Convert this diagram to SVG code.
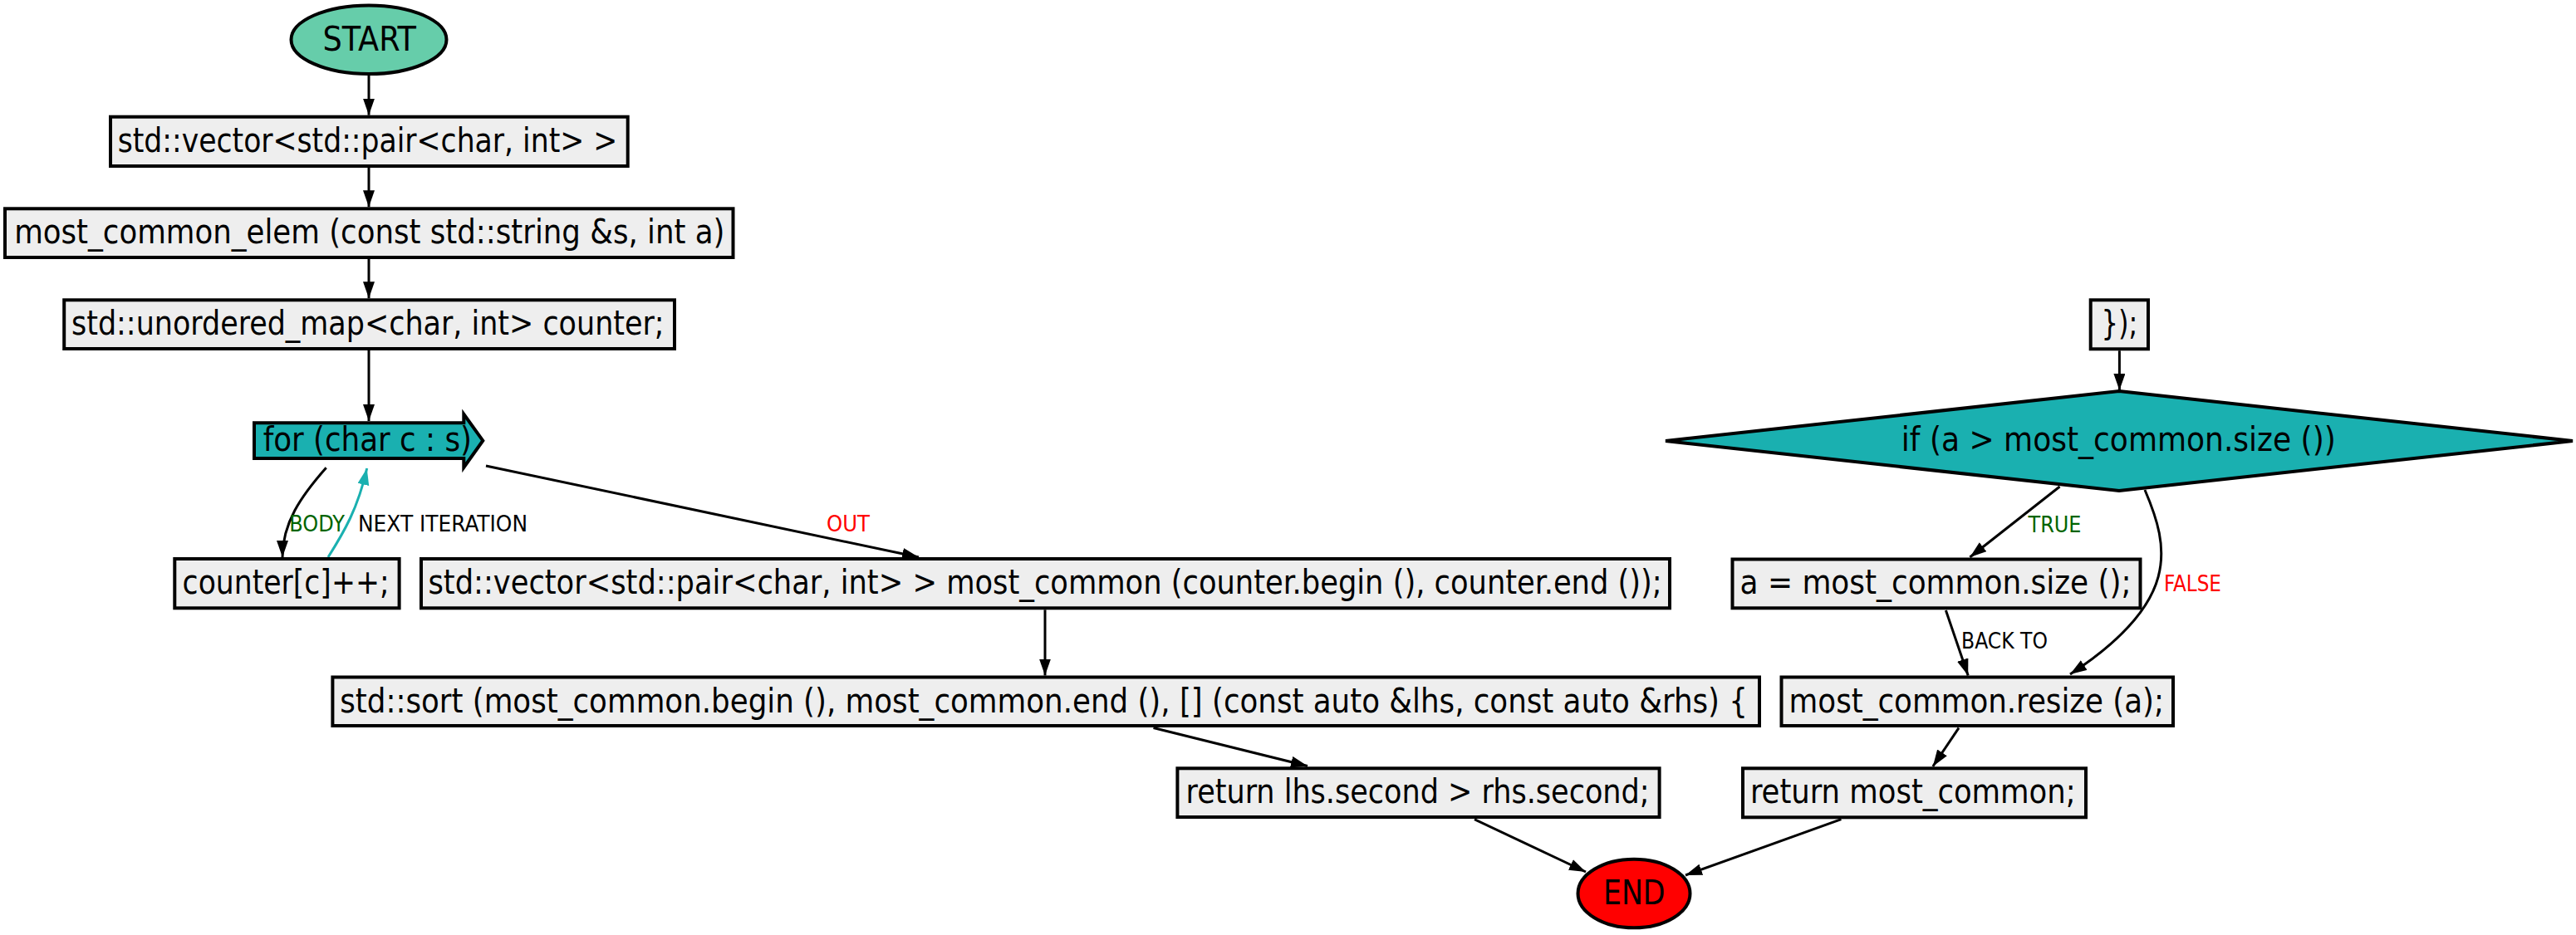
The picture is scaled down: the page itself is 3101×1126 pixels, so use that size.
<svg xmlns="http://www.w3.org/2000/svg" width="3101" height="1126" viewBox="0 0 3101 1126">
<style>
.box{fill:#eeeeee;stroke:#000;stroke-width:4}
.t{font-family:"DejaVu Sans Condensed","DejaVu Sans",sans-serif;font-size:40px;fill:#000;text-anchor:middle}
.l{font-family:"DejaVu Sans Condensed","DejaVu Sans",sans-serif;font-size:26px}
.e{fill:none;stroke:#000;stroke-width:3;marker-end:url(#ah)}
.et{fill:none;stroke:#1ab0b0;stroke-width:3;marker-end:url(#aht)}
</style>
<defs>
<marker id="ah" markerUnits="userSpaceOnUse" markerWidth="22" markerHeight="16" refX="20" refY="7" orient="auto"><path d="M0,0 L20,7 L0,14 z" fill="#000"/></marker>
<marker id="aht" markerUnits="userSpaceOnUse" markerWidth="22" markerHeight="16" refX="20" refY="7" orient="auto"><path d="M0,0 L20,7 L0,14 z" fill="#1ab0b0"/></marker>
</defs>
<rect width="3101" height="1126" fill="#fff"/>
<g id="edges">
<path class="e" d="M444,91 L444,138.7"/>
<path class="e" d="M444,202 L444,249.3"/>
<path class="e" d="M444,312 L444,359.3"/>
<path class="e" d="M444,422 L444,507"/>
<path class="e" d="M392.7,563.3 C362,598 340,630 340,671"/>
<path class="et" d="M395,671 C414,641 431,612 441.7,564"/>
<path class="e" d="M585,561 L1106,671"/>
<path class="e" d="M1258,734.3 L1258,813.5"/>
<path class="e" d="M1388.5,876.5 L1574,922.5"/>
<path class="e" d="M1775,986.7 L1909,1050"/>
<path class="e" d="M2216.4,986.7 L2029,1054"/>
<path class="e" d="M2551.4,422.3 L2551.4,470"/>
<path class="e" d="M2479.5,586 L2371.4,671"/>
<path class="e" d="M2582,590 C2612,660 2625,725 2492,812"/>
<path class="e" d="M2342.4,735 L2369.2,813.5"/>
<path class="e" d="M2358,876.7 L2326.8,923"/>
<text class="l" x="348.3" y="640" textLength="66.7" lengthAdjust="spacingAndGlyphs" fill="#006400">BODY</text>
<text class="l" x="431" y="640" textLength="204" lengthAdjust="spacingAndGlyphs" fill="#000">NEXT ITERATION</text>
<text class="l" x="995" y="640" textLength="52" lengthAdjust="spacingAndGlyphs" fill="#ff0000">OUT</text>
<text class="l" x="2441.5" y="640.7" textLength="64" lengthAdjust="spacingAndGlyphs" fill="#006400">TRUE</text>
<text class="l" x="2605" y="711.7" textLength="69" lengthAdjust="spacingAndGlyphs" fill="#ff0000">FALSE</text>
<text class="l" x="2361" y="781" textLength="104" lengthAdjust="spacingAndGlyphs" fill="#000">BACK TO</text>
</g>
<g id="start">
<ellipse cx="444" cy="47.7" rx="93.5" ry="41.3" fill="#66cdaa" stroke="#000" stroke-width="4"/>
<text class="t" x="444.8" y="61" textLength="112.4" lengthAdjust="spacingAndGlyphs">START</text>
</g>
<g id="n1">
<rect class="box" x="133" y="140.7" width="622.7" height="59.3"/>
<text class="t" x="442.5" y="182.7" textLength="601.5" lengthAdjust="spacingAndGlyphs">std::vector&lt;std::pair&lt;char, int&gt; &gt;</text>
</g>
<g id="n2">
<rect class="box" x="6" y="251.3" width="876.5" height="58.7"/>
<text class="t" x="444.8" y="293.3" textLength="855.3" lengthAdjust="spacingAndGlyphs">most_common_elem (const std::string &amp;s, int a)</text>
</g>
<g id="n3">
<rect class="box" x="77.2" y="361.3" width="734.8" height="58.7"/>
<text class="t" x="442.8" y="403.3" textLength="713.6" lengthAdjust="spacingAndGlyphs">std::unordered_map&lt;char, int&gt; counter;</text>
</g>
<g id="n4">
<polygon points="306,509.3 558.3,509.3 558.3,498.7 581.3,530.7 558.3,563 558.3,552 306,552" fill="#1ab0b0" stroke="#000" stroke-width="4"/>
<text class="t" x="442.3" y="543.3" textLength="251.3" lengthAdjust="spacingAndGlyphs">for (char c : s)</text>
</g>
<g id="n5">
<rect class="box" x="210.3" y="673" width="270.3" height="59.3"/>
<text class="t" x="344.1" y="715" textLength="249" lengthAdjust="spacingAndGlyphs">counter[c]++;</text>
</g>
<g id="n6">
<rect class="box" x="507" y="673" width="1503" height="59.3"/>
<text class="t" x="1258.1" y="715" textLength="1485.3" lengthAdjust="spacingAndGlyphs">std::vector&lt;std::pair&lt;char, int&gt; &gt; most_common (counter.begin (), counter.end ());</text>
</g>
<g id="n7">
<rect class="box" x="400.4" y="815.5" width="1717.6" height="58.5"/>
<text class="t" x="1256.6" y="857.5" textLength="1694.7" lengthAdjust="spacingAndGlyphs">std::sort (most_common.begin (), most_common.end (), [] (const auto &amp;lhs, const auto &amp;rhs) {</text>
</g>
<g id="n8">
<rect class="box" x="1417.4" y="925.3" width="580.2" height="58.7"/>
<text class="t" x="1706.6" y="967" textLength="558" lengthAdjust="spacingAndGlyphs">return lhs.second &gt; rhs.second;</text>
</g>
<g id="end">
<ellipse cx="1967" cy="1076" rx="67.5" ry="41.3" fill="#ff0000" stroke="#000" stroke-width="4"/>
<text class="t" x="1967.3" y="1089.3" textLength="74.7" lengthAdjust="spacingAndGlyphs">END</text>
</g>
<g id="n9">
<rect class="box" x="2516.7" y="361.3" width="69.3" height="59"/>
<text class="t" x="2551.4" y="403.3" textLength="44" lengthAdjust="spacingAndGlyphs">});</text>
</g>
<g id="n10">
<polygon points="2551,471 3097,531 2551,591 2005,531" fill="#1ab0b0" stroke="#000" stroke-width="4"/>
<text class="t" x="2550.3" y="543.3" textLength="523" lengthAdjust="spacingAndGlyphs">if (a &gt; most_common.size ())</text>
</g>
<g id="n11">
<rect class="box" x="2085.5" y="673.5" width="491" height="58.8"/>
<text class="t" x="2330.1" y="715" textLength="471" lengthAdjust="spacingAndGlyphs">a = most_common.size ();</text>
</g>
<g id="n12">
<rect class="box" x="2144.5" y="815.5" width="471.5" height="58.5"/>
<text class="t" x="2379.3" y="857.5" textLength="451.4" lengthAdjust="spacingAndGlyphs">most_common.resize (a);</text>
</g>
<g id="n13">
<rect class="box" x="2098" y="925.3" width="413" height="59"/>
<text class="t" x="2302.8" y="967" textLength="391.7" lengthAdjust="spacingAndGlyphs">return most_common;</text>
</g>
</svg>
